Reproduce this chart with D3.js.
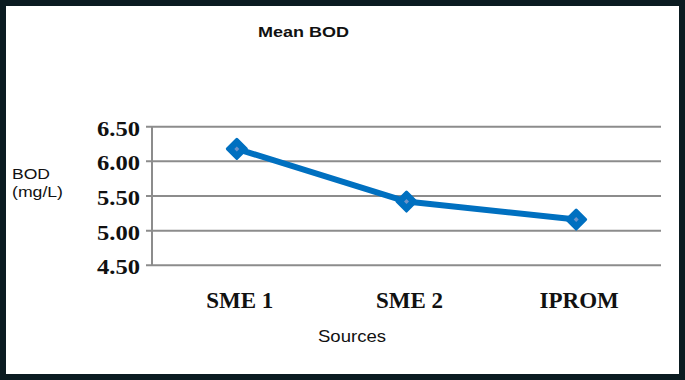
<!DOCTYPE html>
<html lang="en">
<head>
    <meta charset="UTF-8">
    <title>Mean BOD</title>
    <script src="https://d3js.org/d3.v7.min.js"></script>
    <style>
        body {
            margin: 0;
            background-color: white;
        }

        .grid line {
            stroke: #8c8c8c;
            stroke-width: 2;
        }

        .tick-label {
            font-family: "Liberation Serif", "Times New Roman", serif;
            font-weight: bold;
        }
    </style>
</head>
<body>
    <div id="chart"></div>

    <script>
        // chart data
        const sources = ["SME 1", "SME 2", "IPROM"];
        const bodValues = [6.18, 5.42, 5.16];
        const yTicks = [4.5, 5.0, 5.5, 6.0, 6.5];

        const width = 685;
        const height = 380;

        const svg = d3.select("#chart")
            .append("svg")
            .attr("width", width)
            .attr("height", height);

        svg.append("rect")
            .attr("width", width)
            .attr("height", height)
            .attr("fill", "white");

        // plot area
        const x = d3.scaleBand()
            .domain(sources)
            .range([152, 661]);

        const y = d3.scaleLinear()
            .domain([4.5, 6.5])
            .range([265.3, 126.7]);

        // gridlines with little ticks on the left
        const grid = svg.append("g").attr("class", "grid");
        grid.selectAll("line")
            .data(yTicks)
            .join("line")
            .attr("x1", 146)
            .attr("x2", 661)
            .attr("y1", d => y(d))
            .attr("y2", d => y(d));

        // y axis line
        svg.append("line")
            .attr("x1", 152).attr("x2", 152)
            .attr("y1", y(6.5)).attr("y2", y(4.5))
            .attr("stroke", "#8c8c8c")
            .attr("stroke-width", 2);

        // y tick labels
        svg.append("g")
            .selectAll("text")
            .data(yTicks)
            .join("text")
            .attr("class", "tick-label")
            .attr("x", 140)
            .attr("y", d => y(d) + 9)
            .attr("text-anchor", "end")
            .attr("font-size", 22)
            .attr("textLength", 43)
            .attr("lengthAdjust", "spacingAndGlyphs")
            .attr("fill", "#111")
            .text(d => d.toFixed(2));

        // x category labels
        svg.append("g")
            .selectAll("text")
            .data(sources)
            .join("text")
            .attr("class", "tick-label")
            .attr("x", d => x(d) + x.bandwidth() / 2 + 3)
            .attr("y", 308)
            .attr("text-anchor", "middle")
            .attr("font-size", 23)
            .attr("fill", "#111")
            .text(d => d);

        // the line
        const points = sources.map((s, i) => [x(s) + x.bandwidth() / 2, y(bodValues[i])]);

        svg.append("path")
            .datum(points)
            .attr("d", d3.line())
            .attr("fill", "none")
            .attr("stroke", "#0070c0")
            .attr("stroke-width", 6)
            .attr("stroke-linejoin", "round");

        // diamond markers
        const marker = svg.append("g")
            .selectAll("g")
            .data(points)
            .join("g")
            .attr("transform", d => `translate(${d[0]},${d[1]})`);

        marker.append("path")
            .attr("d", "M0,-9.5 L9.5,0 L0,9.5 L-9.5,0 Z")
            .attr("fill", "#0070c0")
            .attr("stroke", "#0070c0")
            .attr("stroke-width", 3)
            .attr("stroke-linejoin", "round");

        marker.append("path")
            .attr("d", "M0,-2.5 L2.5,0 L0,2.5 L-2.5,0 Z")
            .attr("fill", "#6f93c8");

        // titles
        svg.append("text")
            .attr("x", 258)
            .attr("y", 37)
            .attr("font-family", "Liberation Sans, Arial, sans-serif")
            .attr("font-weight", "bold")
            .attr("font-size", 15.5)
            .attr("textLength", 91)
            .attr("lengthAdjust", "spacingAndGlyphs")
            .attr("fill", "#111")
            .text("Mean BOD");

        svg.append("text")
            .attr("x", 318)
            .attr("y", 342)
            .attr("font-family", "Liberation Sans, Arial, sans-serif")
            .attr("font-size", 17)
            .attr("textLength", 68)
            .attr("lengthAdjust", "spacingAndGlyphs")
            .attr("fill", "#111")
            .text("Sources");

        svg.append("text")
            .attr("x", 12)
            .attr("y", 179)
            .attr("font-family", "Liberation Sans, Arial, sans-serif")
            .attr("font-size", 15)
            .attr("textLength", 38)
            .attr("lengthAdjust", "spacingAndGlyphs")
            .attr("fill", "#111")
            .text("BOD");

        svg.append("text")
            .attr("x", 12)
            .attr("y", 197)
            .attr("font-family", "Liberation Sans, Arial, sans-serif")
            .attr("font-size", 15)
            .attr("textLength", 51)
            .attr("lengthAdjust", "spacingAndGlyphs")
            .attr("fill", "#111")
            .text("(mg/L)");

        // dark frame round the whole thing
        svg.append("rect")
            .attr("x", 3)
            .attr("y", 3)
            .attr("width", width - 6)
            .attr("height", height - 6)
            .attr("fill", "none")
            .attr("stroke", "#0b1b21")
            .attr("stroke-width", 6);
    </script>
</body>
</html>
